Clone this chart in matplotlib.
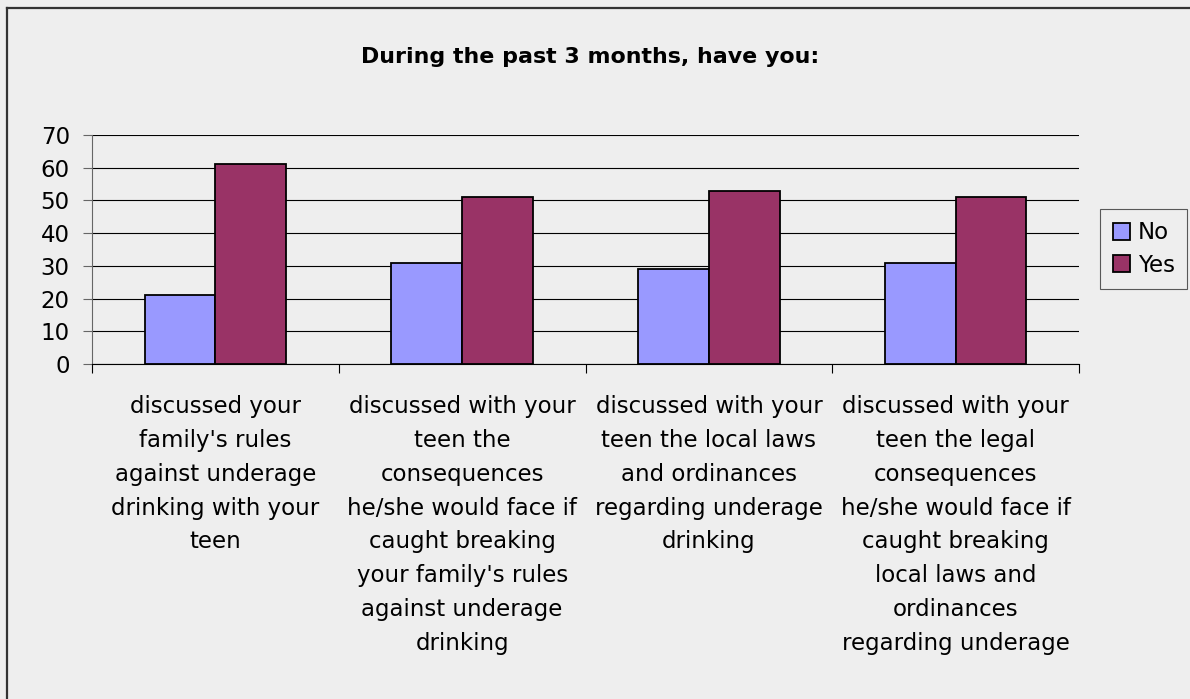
import matplotlib.pyplot as plt
from matplotlib.lines import Line2D
import numpy as np

plt.rcParams['font.family'] = 'DejaVu Sans'

# data
categories = [
    "discussed your\nfamily's rules\nagainst underage\ndrinking with your\nteen",
    "discussed with your\nteen the\nconsequences\nhe/she would face if\ncaught breaking\nyour family's rules\nagainst underage\ndrinking",
    "discussed with your\nteen the local laws\nand ordinances\nregarding underage\ndrinking",
    "discussed with your\nteen the legal\nconsequences\nhe/she would face if\ncaught breaking\nlocal laws and\nordinances\nregarding underage",
]
no_vals = [21, 31, 29, 31]
yes_vals = [61, 51, 53, 51]
title = "During the past 3 months, have you:"

bg = '#eeeeee'
fs = 16.5
fig = plt.figure(figsize=(11.9, 6.99), dpi=100, facecolor=bg)
ax = fig.add_axes([92/1190, 1 - 364/699, (1079 - 92)/1190, (364 - 135)/699])
ax.set_facecolor(bg)

x = np.arange(len(categories))
w = 0.287
ax.bar(x - w/2, no_vals, w, color='#9999ff', edgecolor='black', linewidth=1.3, label='No', zorder=3)
ax.bar(x + w/2, yes_vals, w, color='#993366', edgecolor='black', linewidth=1.3, label='Yes', zorder=3)

ax.set_xlim(-0.5, len(categories) - 0.5)
ax.set_ylim(0, 70)
ax.set_yticks(range(0, 71, 10))
ax.yaxis.grid(True, color='black', linewidth=0.8, zorder=0)
ax.set_axisbelow(True)

# boundaries get tick marks, centers get the labels
ax.set_xticks(np.arange(-0.5, len(categories), 1.0))
ax.set_xticklabels([])
ax.set_xticks(x, minor=True)
ax.set_xticklabels(categories, minor=True, fontsize=fs, linespacing=1.6, va='top')
ax.tick_params(axis='x', which='minor', length=0, pad=22.5)
ax.tick_params(axis='x', which='major', length=6.5, color='black', direction='out')
ax.tick_params(axis='y', labelsize=fs, length=6.5, color='#666666', pad=9.5)

for s in ['top', 'right']:
    ax.spines[s].set_visible(False)
ax.spines['left'].set_color('#666666')
ax.spines['bottom'].set_color('black')

fig.text(590/1190, 1 - 57/699, title, ha='center', va='center', fontsize=15.9, fontweight='bold')

leg = fig.legend(loc='center left', bbox_to_anchor=(1100/1190, 1 - 249/699), fontsize=fs,
                 frameon=True, fancybox=False, edgecolor='#333333', facecolor=bg,
                 handlelength=0.75, handleheight=0.75, handletextpad=0.35, borderpad=0.55,
                 labelspacing=0.4, borderaxespad=0)
leg.get_frame().set_linewidth(0.8)

# outer border (top and left visible)
fig.add_artist(Line2D([6.5/1190, 1], [1 - 7.5/699, 1 - 7.5/699], color='#333333', linewidth=1.6))
fig.add_artist(Line2D([6.5/1190, 6.5/1190], [0, 1 - 7.5/699], color='#333333', linewidth=1.6))

plt.savefig('out.png', dpi=100, facecolor=bg)
